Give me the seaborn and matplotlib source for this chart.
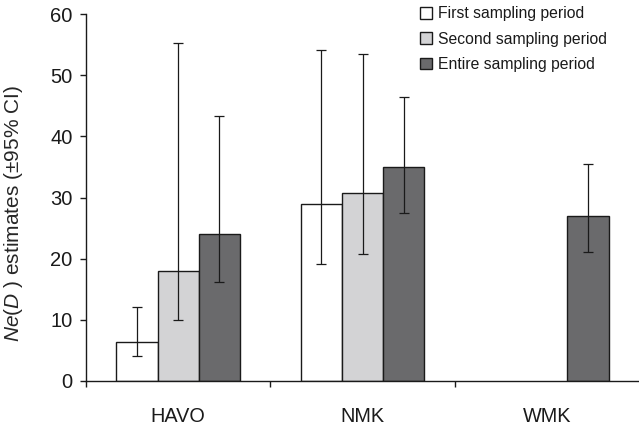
import pandas as pd
import seaborn as sns
import matplotlib.pyplot as plt

sites = ['HAVO', 'NMK', 'WMK']
periods = ['First sampling period', 'Second sampling period', 'Entire sampling period']

# estimates and 95% CI (WMK only has the entire period)
bar_site = ['HAVO', 'HAVO', 'HAVO', 'NMK', 'NMK', 'NMK', 'WMK']
bar_period = periods + periods + ['Entire sampling period']
ne_est = [6.4, 17.9, 24.0, 29.0, 30.8, 35.0, 26.9]
ci_low = [4.0, 10.0, 16.1, 19.2, 20.7, 27.5, 21.1]
ci_high = [12.1, 55.2, 43.4, 54.2, 53.4, 46.4, 35.5]

colors = ['#ffffff', '#d3d3d5', '#6a6a6c']

df = pd.DataFrame({'site': bar_site, 'period': bar_period, 'est': ne_est,
                   'lo': ci_low, 'hi': ci_high})

sns.set_style('ticks')
plt.rcParams['font.family'] = ['Liberation Sans', 'DejaVu Sans']
plt.rcParams['mathtext.fontset'] = 'custom'
plt.rcParams['mathtext.it'] = 'Liberation Sans:italic'
plt.rcParams['mathtext.rm'] = 'Liberation Sans'
plt.rcParams['text.color'] = '#1a1a1a'

fig = plt.figure(figsize=(6.39, 4.28), dpi=100)
ax = fig.add_axes([0.1346, 0.110, 0.8654, 0.857])

sns.barplot(data=df, x='site', y='est', hue='period', order=sites, hue_order=periods,
            palette=colors, width=0.67, edgecolor='#1a1a1a', linewidth=1.0,
            errorbar=None, ax=ax)

# asymmetric CI whiskers on each bar
for cont, per in zip(ax.containers, periods):
    for bar in cont:
        xc = bar.get_x() + bar.get_width() / 2
        site = sites[int(round(xc))]
        row = df[(df['site'] == site) & (df['period'] == per)]
        if row.empty:
            continue
        v, lo, hi = row['est'].iloc[0], row['lo'].iloc[0], row['hi'].iloc[0]
        ax.errorbar(xc, v, yerr=[[v - lo], [hi - v]], fmt='none', ecolor='#1a1a1a',
                    elinewidth=0.9, capsize=3.6, capthick=0.9)

ax.set_xlim(-0.5, 2.5)
ax.set_ylim(0, 60)
ax.set_yticks(range(0, 61, 10))
ax.set_xticks([0, 1, 2])
ax.set_xticklabels(sites)
ax.set_xticks([-0.5, 0.5, 1.5], minor=True)
ax.tick_params(axis='x', which='major', length=0, pad=19, labelsize=14.3,
               labelcolor='#1a1a1a')
ax.tick_params(axis='x', which='minor', length=4.5, width=1.0, color='#1a1a1a')
ax.tick_params(axis='y', length=4.3, width=1.0, pad=5.5, labelsize=14.5,
               color='#1a1a1a', labelcolor='#1a1a1a')
sns.despine(ax=ax)
ax.spines['left'].set_linewidth(1.0)
ax.spines['bottom'].set_linewidth(1.0)
ax.spines['left'].set_color('#1a1a1a')
ax.spines['bottom'].set_color('#1a1a1a')

ax.set_xlabel('')
ax.set_ylabel(r'$\mathit{Ne}$($\mathit{D}$ ) estimates (±95% CI)', fontsize=15)
ax.yaxis.set_label_coords(-0.11, 0.457)

ax.legend(frameon=False, loc='upper right', bbox_to_anchor=(0.967, 1.06), fontsize=11.3,
          handlelength=0.75, handleheight=0.75, handletextpad=0.35, labelspacing=0.66)

fig.savefig('out.png', dpi=100)
